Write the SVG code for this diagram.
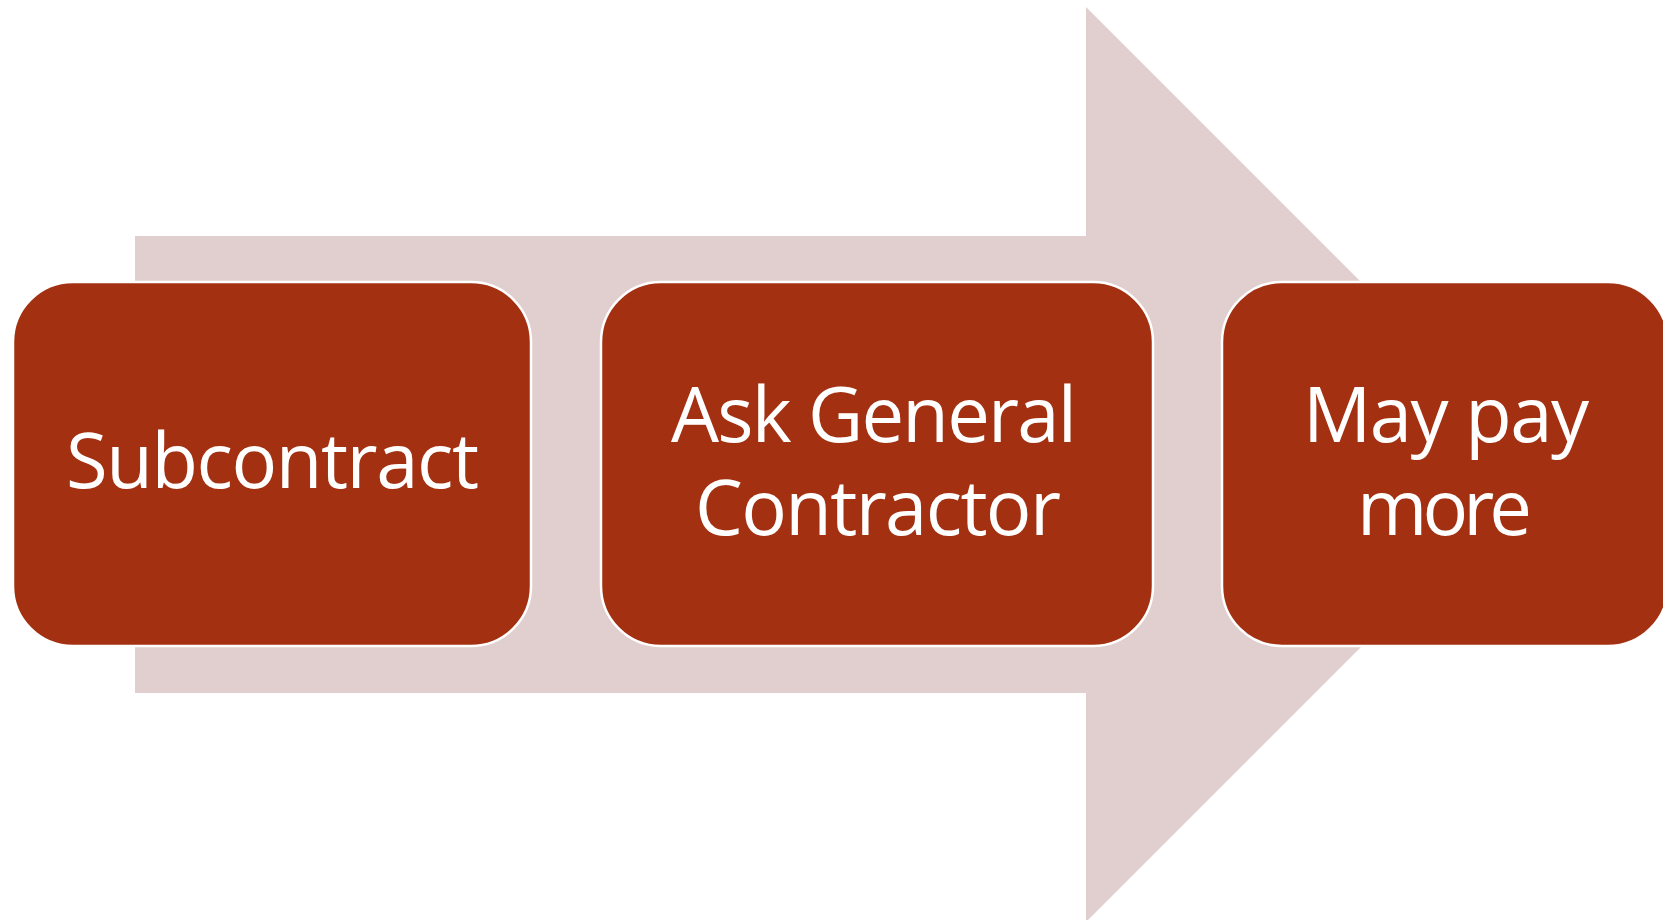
<svg xmlns="http://www.w3.org/2000/svg" width="1663" height="920" viewBox="0 0 1663 920">
  <style>
    .box { fill: #A33011; stroke: #FFFFFF; stroke-width: 2.5; }
    .lbl { fill: #FFFFFF; font-family: "Open Sans", "Liberation Sans", Arial, sans-serif; font-size: 76px; }
  </style>
  <rect width="1663" height="920" fill="#FFFFFF"/>
  <g id="arrow">
    <polygon points="135,236 1086,236 1086,7 1543.5,464.5 1086,922 1086,693 135,693" fill="#E0CFCE"/>
  </g>
  <g id="connectors"></g>
  <g id="node-subcontract">
    <rect class="box" x="13" y="282" width="518" height="364" rx="60" ry="60"/>
    <text class="lbl" x="66" y="488" textLength="413" lengthAdjust="spacing">Subcontract</text>
  </g>
  <g id="node-ask-general-contractor">
    <rect class="box" x="601" y="282" width="552" height="364" rx="60" ry="60"/>
    <text class="lbl" x="671" y="442" textLength="406" lengthAdjust="spacing">Ask General</text>
    <text class="lbl" x="695" y="535" textLength="366" lengthAdjust="spacing">Contractor</text>
  </g>
  <g id="node-may-pay-more">
    <rect class="box" x="1222" y="282" width="446" height="364" rx="60" ry="60"/>
    <text class="lbl" x="1303" y="442" textLength="286" lengthAdjust="spacing">May pay</text>
    <text class="lbl" x="1357" y="535" textLength="175" lengthAdjust="spacing">more</text>
  </g>
</svg>
